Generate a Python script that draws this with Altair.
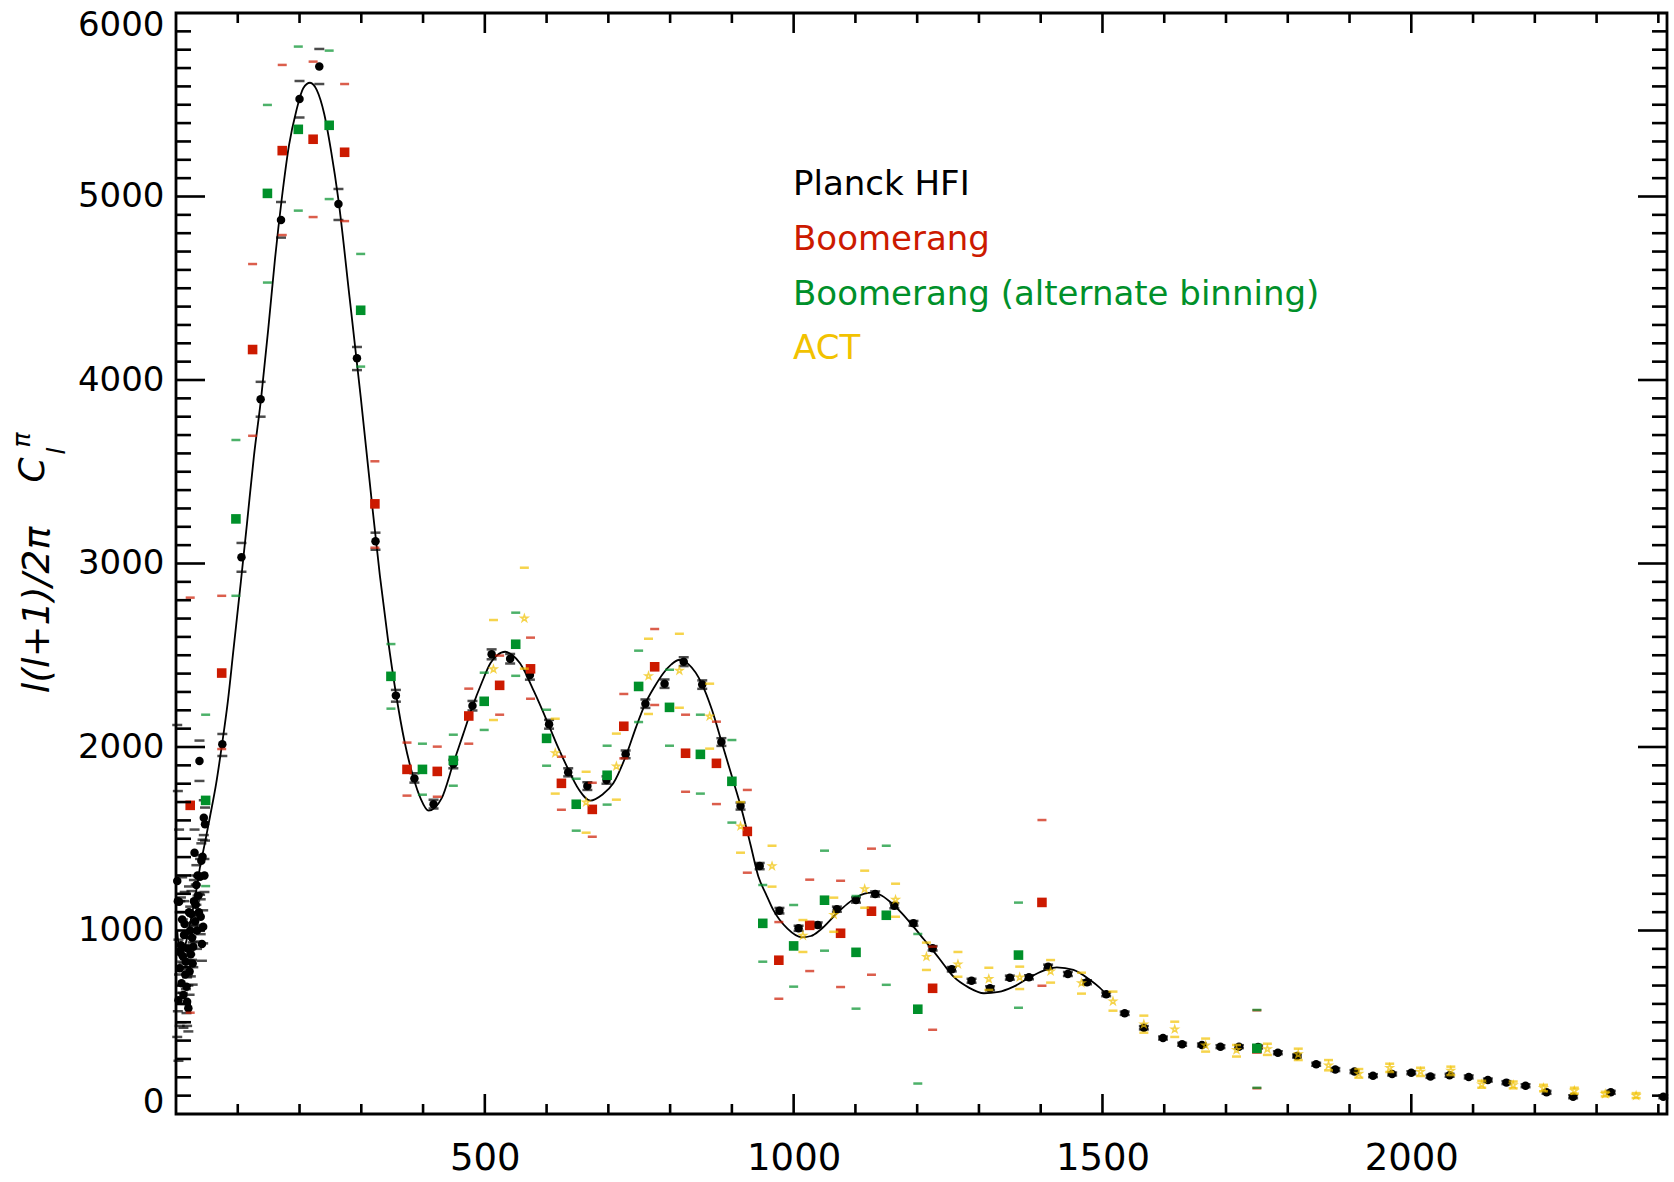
import altair as alt
import pandas as pd

# ---------------------------------------------------------------------------
# Best-fit model spectrum (multipole l, D_l in uK^2)
model_l = [2, 5, 10, 15, 20, 25, 32, 39, 47, 55, 65, 74, 84, 93, 105, 115, 126,
           138, 150, 160, 171, 183, 195, 206, 217, 228, 240, 251, 263, 281, 299,
           315, 330, 343, 356, 370, 384, 396, 409, 430, 449, 465, 480, 495, 509,
           520, 533, 545, 557, 580, 600, 617, 633, 652, 671, 690, 708, 730, 745,
           760, 775, 789, 802, 814, 830, 851, 868, 884, 900, 916, 930, 943, 955,
           967, 990, 1013, 1028, 1043, 1070, 1087, 1103, 1127, 1140, 1156, 1175,
           1194, 1210, 1227, 1243, 1259, 1283, 1308, 1332, 1356, 1389, 1408, 1426,
           1453, 1480, 1495, 1510]
model_d = [1000, 900, 870, 920, 990, 1075, 1200, 1348, 1480, 1620, 1800, 2002,
           2250, 2529, 2900, 3220, 3580, 3907, 4300, 4650, 4981, 5280, 5470, 5590,
           5620, 5580, 5450, 5250, 4981, 4450, 3909, 3400, 2937, 2590, 2293, 2030,
           1838, 1720, 1653, 1720, 1911, 2070, 2220, 2350, 2456, 2500, 2519, 2500,
           2456, 2300, 2147, 2010, 1893, 1770, 1708, 1740, 1802, 1966, 2110, 2238,
           2330, 2402, 2450, 2474, 2450, 2347, 2200, 2020, 1840, 1657, 1470, 1293,
           1200, 1112, 1010, 963, 970, 1003, 1094, 1145, 1184, 1206, 1195, 1157,
           1095, 1021, 955, 885, 815, 748, 690, 658, 665, 694, 757, 785, 799, 785,
           730, 690, 639]

# Planck HFI: unbinned low multipoles followed by binned band powers
planck_l = [2, 3, 4, 5, 6, 7, 8, 9, 10, 11, 12, 13, 14, 15, 16, 17, 18, 19, 20,
            21, 22, 23, 24, 25, 26, 27, 28, 29, 30, 31, 32, 33, 34, 35, 36, 37,
            38, 39, 40, 41, 42, 43, 44, 45, 46, 47,
            75, 106, 137, 170, 200, 232, 263, 293, 323, 356, 386, 417, 449, 480,
            511, 541, 573, 604, 635, 666, 697, 728, 760, 791, 822, 852, 883, 914,
            945, 977, 1008, 1039, 1070, 1101, 1132, 1163, 1194, 1225, 1256, 1288,
            1318, 1350, 1381, 1412, 1444, 1475, 1506, 1536, 1567, 1598, 1629,
            1661, 1691, 1721, 1752, 1784, 1815, 1846, 1877, 1908, 1938, 1969,
            2000, 2031, 2062, 2093, 2124, 2154, 2185, 2219, 2262, 2323, 2408]
planck_d = [1270, 1160, 620, 1157, 794, 880, 920, 712, 1060, 860, 648, 975, 1035,
            760, 830, 694, 612, 900, 576, 1100, 776, 1000, 870, 1090, 960, 820,
            912, 1160, 1424, 1050, 1140, 1248, 1000, 1300, 1190, 1100, 1924, 1293,
            1075, 1380, 926, 1402, 1021, 1615, 1300, 1579,
            2015, 3034, 3895, 4872, 5531, 5708, 4959, 4118, 3121, 2280, 1829, 1688,
            1907, 2225, 2505, 2481, 2392, 2124, 1862, 1787, 1820, 1960, 2236, 2345,
            2465, 2340, 2027, 1678, 1351, 1108, 1012, 1030, 1116, 1166, 1199, 1135,
            1039, 903, 789, 726, 685, 743, 745, 803, 763, 718, 652, 549, 470, 414,
            380, 376, 367, 367, 365, 334, 316, 271, 242, 231, 209, 218, 225, 205,
            211, 202, 185, 171, 154, 118, 94, 118, 94]
planck_lo = [420, 560, 290, 760, 480, 600, 660, 500, 830, 660, 470, 790, 860, 600,
             680, 550, 480, 760, 450, 960, 650, 870, 750, 965, 840, 705, 800, 1045,
             1300, 940, 1030, 1140, 900, 1190, 1085, 1000, 1815, 1195, 980, 1285,
             835, 1310, 930, 1520, 1210, 1490,
             1951, 2955, 3800, 4776, 5430, 5613, 4872, 4054, 3075, 2247, 1806, 1665,
             1884, 2199, 2478, 2455, 2367, 2100, 1840, 1766, 1800, 1939, 2213, 2322,
             2441, 2317, 2006, 1659, 1334, 1093, 998, 1016, 1102, 1152, 1185, 1121,
             1026, 891, 777, 715, 674, 732, 734, 792, 752, 707, 642, 540, 461, 406,
             372, 368, 359, 359, 357, 326, 308, 263, 234, 223, 201, 210, 217, 197,
             203, 194, 177, 163, 146, 110, 86, 110, 86]
planck_hi = [2120, 1760, 950, 1550, 1100, 1160, 1180, 920, 1290, 1060, 820, 1160,
             1210, 920, 980, 840, 745, 1040, 700, 1240, 900, 1130, 990, 1215, 1080,
             935, 1025, 1275, 1550, 1160, 1250, 1356, 1100, 1410, 1295, 1200, 2035,
             1390, 1170, 1475, 1015, 1495, 1110, 1710, 1390, 1670,
             2071, 3112, 3990, 4970, 5629, 5804, 5041, 4180, 3168, 2311, 1857, 1712,
             1930, 2251, 2532, 2507, 2417, 2148, 1884, 1808, 1840, 1981, 2259, 2368,
             2489, 2363, 2048, 1697, 1368, 1123, 1026, 1044, 1130, 1180, 1213, 1149,
             1052, 915, 801, 737, 696, 754, 756, 814, 774, 729, 662, 558, 479, 422,
             388, 384, 375, 375, 373, 342, 324, 279, 250, 239, 217, 226, 233, 213,
             219, 210, 193, 179, 162, 126, 102, 126, 102]

# Boomerang
boom_l = [23, 74, 124, 172, 222, 273, 322, 374, 423, 474, 524, 574, 624, 674,
          725, 775, 825, 875, 925, 976, 1026, 1076, 1126, 1225, 1402, 1750]
boom_d = [1682, 2403, 4166, 5250, 5312, 5241, 3325, 1878, 1867, 2169, 2336, 2426,
          1802, 1660, 2113, 2437, 1966, 1911, 1540, 838, 1028, 985, 1105, 685,
          1153, 355]
boom_lo = [552, 1989, 3696, 4790, 4888, 4866, 3086, 1735, 1729, 2018, 2176, 2263,
           1658, 1511, 1938, 2229, 1756, 1689, 1315, 628, 779, 692, 759, 459, 699,
           140]
boom_hi = [2814, 2824, 4632, 5717, 5735, 5613, 3557, 2024, 2002, 2318, 2498, 2596,
           1947, 1805, 2289, 2643, 2176, 2138, 1766, 1046, 1277, 1271, 1446, 912,
           1602, 565]

# Boomerang, alternate binning
boomalt_l = [48, 97, 148, 198, 248, 299, 348, 399, 449, 499, 550, 600, 648, 698,
             749, 799, 849, 900, 950, 1000, 1050, 1101, 1150, 1201, 1364, 1750]
boomalt_d = [1709, 3243, 5017, 5366, 5388, 4380, 2385, 1878, 1927, 2249, 2560,
             2047, 1688, 1846, 2330, 2216, 1960, 1813, 1039, 916, 1165, 881, 1083,
             571, 866, 358]
boomalt_lo = [1242, 2824, 4531, 4923, 4986, 4073, 2209, 1740, 1789, 2093, 2388,
              1898, 1544, 1686, 2136, 2007, 1746, 1588, 830, 694, 890, 574, 704,
              166, 579, 143]
boomalt_hi = [2176, 3673, 5499, 5817, 5795, 4687, 2561, 2018, 2067, 2405, 2732,
              2203, 1827, 2007, 2525, 2421, 2176, 2038, 1248, 1139, 1435, 1188,
              1462, 981, 1152, 567]

# ACT
act_l = [514, 564, 614, 664, 713, 765, 815, 864, 914, 965, 1015, 1065, 1115, 1165,
         1215, 1266, 1316, 1366, 1416, 1466, 1517, 1567, 1617, 1667, 1717, 1767,
         1817, 1866, 1915, 1965, 2015, 2064, 2114, 2165, 2214, 2264, 2314, 2364]
act_d = [2424, 2701, 1967, 1699, 1895, 2387, 2416, 2167, 1568, 1351, 972, 1086,
         1226, 1168, 857, 816, 736, 745, 778, 714, 614, 489, 462, 374, 349, 354,
         326, 265, 220, 252, 231, 236, 162, 158, 142, 127, 109, 100]
act_lo = [2147, 2427, 1746, 1533, 1713, 2180, 2214, 1991, 1424, 1239, 883, 993,
          1124, 1075, 785, 748, 676, 681, 716, 656, 563, 443, 420, 340, 313, 322,
          294, 238, 198, 229, 207, 212, 143, 140, 124, 111, 96, 87]
act_hi = [2692, 2977, 2154, 1865, 2073, 2590, 2617, 2345, 1700, 1462, 1057, 1179,
          1326, 1255, 934, 883, 797, 803, 839, 770, 667, 536, 503, 411, 376, 383,
          356, 294, 245, 274, 252, 258, 181, 177, 159, 143, 121, 114]

# ---------------------------------------------------------------------------
W, H = 1491, 1101
PAD_L, PAD_T = 176, 13
FONT = "DejaVu Sans"

BLACK = "#000000"
RED = "#cc1a00"
GREEN = "#00902a"
YELLOW = "#f2c200"

# five-pointed star outline in the unit box
STAR = ("M0,-1L0.2245,-0.309L0.951,-0.309L0.3633,0.118L0.5878,0.809L0,0.382"
        "L-0.5878,0.809L-0.3633,0.118L-0.951,-0.309L-0.2245,-0.309Z")

xs = alt.Scale(domain=[0, 2414], nice=False, zero=False)
ys = alt.Scale(domain=[0, 6000], nice=False, zero=False)

# one shared axis definition per channel, used by every layer
AX = alt.Axis(values=[500, 1000, 1500, 2000], format="d", ticks=False,
              domain=False, grid=False, labelFont=FONT, labelFontSize=37,
              labelColor=BLACK, labelPadding=26)
AY = alt.Axis(values=[0, 1000, 2000, 3000, 4000, 5000, 6000], format="d",
              ticks=False, domain=False, grid=False, labelFont=FONT,
              labelFontSize=34, labelColor=BLACK, labelPadding=12,
              labelFlush=True, labelFlushOffset=5)


def X(field):
    return alt.X(field, scale=xs, axis=AX, title=None)


def Y(field):
    return alt.Y(field, scale=ys, axis=AY, title=None)


def series(l, d, lo, hi):
    pts = pd.DataFrame({"l": l, "d": d})
    caps = pd.DataFrame({"l": list(l) + list(l), "d": list(lo) + list(hi)})
    return pts, caps


def xy():
    return dict(x=X("l:Q"), y=Y("d:Q"))


def caps_layer(df, color, width, thick):
    return alt.Chart(df).mark_tick(orient="horizontal", size=width,
                                   thickness=thick, color=color).encode(**xy())


model = alt.Chart(pd.DataFrame({"l": model_l, "d": model_d})).mark_line(
    color=BLACK, strokeWidth=1.8, interpolate="monotone"
).encode(**xy())

p_pts, p_caps = series(planck_l, planck_d, planck_lo, planck_hi)
b_pts, b_caps = series(boom_l, boom_d, boom_lo, boom_hi)
g_pts, g_caps = series(boomalt_l, boomalt_d, boomalt_lo, boomalt_hi)
a_pts, a_caps = series(act_l, act_d, act_lo, act_hi)

data_layers = [
    caps_layer(p_caps, BLACK, 10, 2.5),
    alt.Chart(p_pts).mark_circle(color=BLACK, size=72, opacity=1).encode(**xy()),
    caps_layer(b_caps, RED, 9, 2.5),
    alt.Chart(b_pts).mark_square(color=RED, size=92, opacity=1).encode(**xy()),
    caps_layer(g_caps, GREEN, 9, 2.5),
    alt.Chart(g_pts).mark_square(color=GREEN, size=92, opacity=1).encode(**xy()),
    caps_layer(a_caps, YELLOW, 9, 2.5),
    alt.Chart(a_pts).mark_point(shape=STAR, filled=False, color=YELLOW,
                                strokeWidth=1.5, size=50).encode(**xy()),
]

# Inward-pointing ticks on all four sides of the frame
y_major = [1000, 2000, 3000, 4000, 5000]
y_minor = [v for v in range(100, 6000, 100) if v % 1000]
x_major = [500, 1000, 1500, 2000]
x_minor = [v for v in range(100, 2401, 100) if v % 500]


def yticks(vals, length):
    df = pd.DataFrame({"v": vals})
    left = alt.Chart(df).mark_rule(color=BLACK, strokeWidth=2.6).encode(
        y=Y("v:Q"), x=alt.value(0), x2=alt.value(length))
    right = alt.Chart(df).mark_rule(color=BLACK, strokeWidth=2.6).encode(
        y=Y("v:Q"), x=alt.value(W - length), x2=alt.value(W))
    return [left, right]


def xticks(vals, length):
    df = pd.DataFrame({"v": vals})
    bottom = alt.Chart(df).mark_rule(color=BLACK, strokeWidth=2.6).encode(
        x=X("v:Q"), y=alt.value(H - length), y2=alt.value(H))
    top = alt.Chart(df).mark_rule(color=BLACK, strokeWidth=2.6).encode(
        x=X("v:Q"), y=alt.value(0), y2=alt.value(length))
    return [bottom, top]


tick_layers = (yticks(y_minor, 15) + yticks(y_major, 29)
               + xticks(x_minor, 10) + xticks(x_major, 20))


def label(text, px, py, color=BLACK, size=34, angle=0, style="normal",
          align="left"):
    return alt.Chart(pd.DataFrame({"t": [text]})).mark_text(
        font=FONT, fontSize=size, color=color, align=align, baseline="middle",
        angle=angle, fontStyle=style
    ).encode(text="t:N", x=alt.value(px - PAD_L), y=alt.value(py - PAD_T))


# Series key
key_layers = [
    label("Planck HFI", 793, 185, BLACK),
    label("Boomerang", 793, 240, RED),
    label("Boomerang (alternate binning)", 793, 295, GREEN),
    label("ACT", 793, 349, YELLOW),
]

# Vertical axis title: l(l+1)/2pi C_l^pi
title_layers = [
    label("l(l+1)/2π", 38, 610, size=38, angle=270, style="italic",
          align="center"),
    label("C", 33, 470, size=36, angle=270, style="italic", align="center"),
    label("l", 57, 451, size=25, angle=270, style="italic", align="center"),
    label("π", 22, 440, size=25, angle=270, style="italic", align="center"),
]

chart = alt.layer(
    model, *data_layers, *tick_layers, *key_layers, *title_layers
).properties(
    width=W, height=H,
    background="white",
    autosize=alt.AutoSizeParams(type="none"),
    padding={"left": PAD_L, "top": PAD_T, "right": 1674 - PAD_L - W,
             "bottom": 1182 - PAD_T - H},
).configure_view(
    stroke=BLACK, strokeWidth=2.8
)

chart.save("out.html", embed_options={"renderer": "svg", "actions": False})
